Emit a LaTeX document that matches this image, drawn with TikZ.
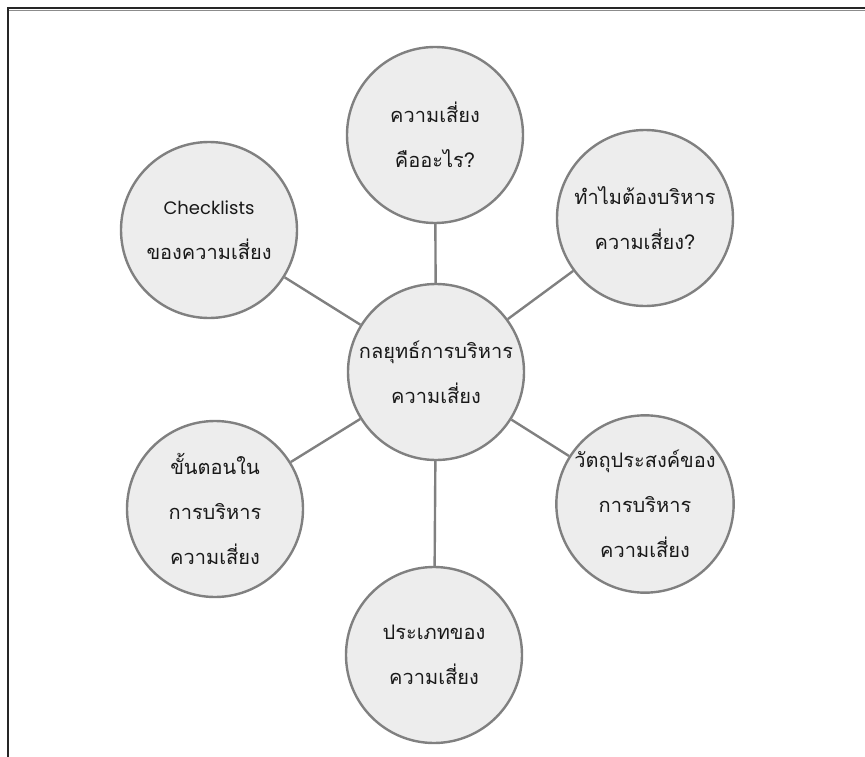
\documentclass[tikz,border=0pt]{standalone}
\usepackage{fontspec}
\newfontfamily\thaifont[Script=Thai]{Loma}
\newfontfamily\latfont{Poppins}
\definecolor{cfill}{HTML}{EDEDED}
\definecolor{cedge}{HTML}{808080}
\begin{document}
\begin{tikzpicture}[x=1pt,y=-1pt,
  bubble/.style={circle, draw=cedge, line width=2.4pt, fill=cfill, minimum size=176pt, inner sep=0pt, align=center,
    font=\thaifont\fontsize{20}{45}\selectfont, text=black!90},
  conn/.style={draw=cedge, line width=2.4pt}]
\useasboundingbox (0,0) rectangle (865,757);
\draw[line width=1pt, black!45] (9,10.5) -- (865,10.5);
\draw[line width=2.8pt, black!85] (8,757) -- (8,8) -- (865,8);
\node[bubble] (c) at (436,372) {กลยุทธ์การบริหาร\\ความเสี่ยง};
\node[bubble] (t) at (435,135) {ความเสี่ยง\\คืออะไร?};
\node[bubble] (ur) at (645,218) {ทำไมต้องบริหาร\\ความเสี่ยง?};
\node[bubble] (lr) at (645,504) {วัตถุประสงค์ของ\\การบริหาร\\ความเสี่ยง};
\node[bubble] (b) at (434,655) {ประเภทของ\\ความเสี่ยง};
\node[bubble] (ll) at (215,509) {ขั้นตอนใน\\การบริหาร\\ความเสี่ยง};
\node[bubble] (ul) at (209,230) {{\latfont\fontsize{18}{45}\selectfont Checklists}\\ของความเสี่ยง};
\foreach \n in {t,ur,lr,b,ll,ul} \draw[conn] (c) -- (\n);
\end{tikzpicture}
\end{document}
